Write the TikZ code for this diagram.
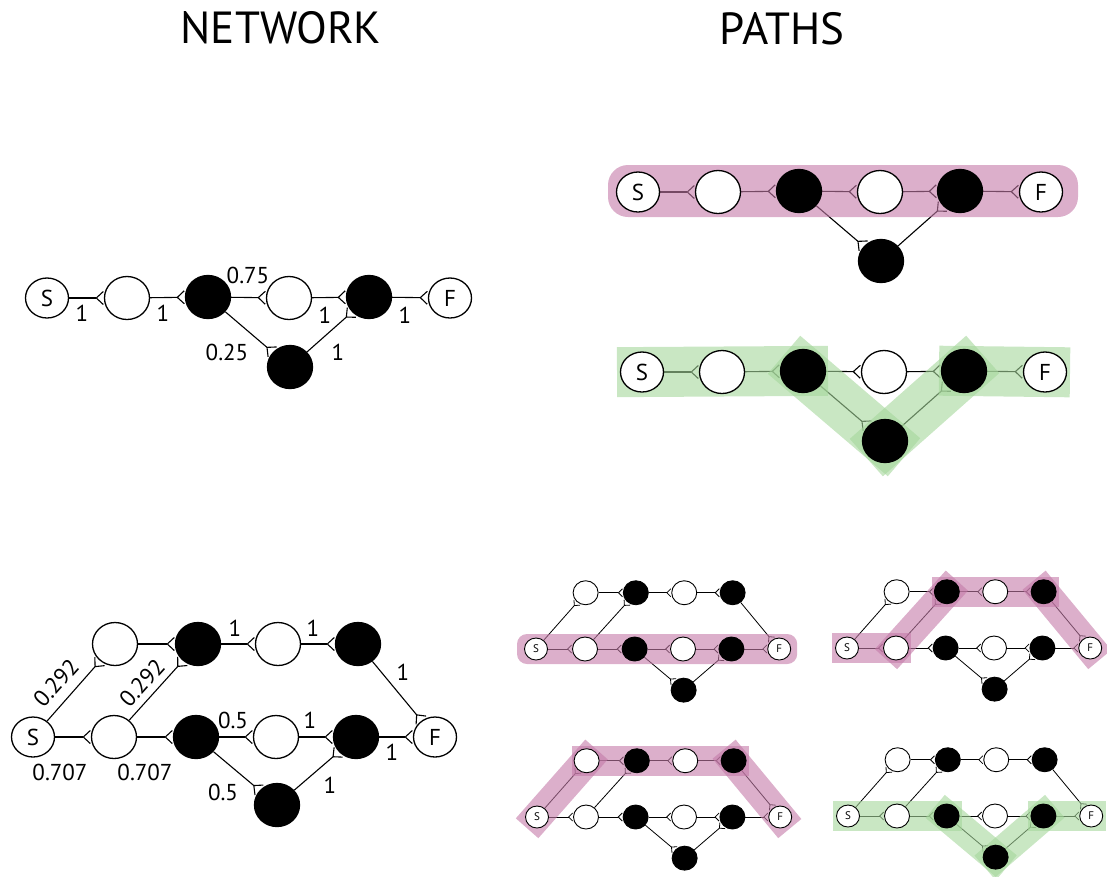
\documentclass[tikz,border=0pt]{standalone}
\usepackage{fontspec}
\setmainfont{PT Sans}
\usetikzlibrary{arrows.meta,shapes.geometric,calc}
\pgfdeclarelayer{edges}
\pgfdeclarelayer{bands}
\pgfsetlayers{edges,bands,main}
\definecolor{pinkb}{RGB}{196,122,168}
\definecolor{greenb}{RGB}{165,215,155}
\tikzset{
  wn/.style={ellipse, draw=black, line width=1.3pt, fill=white, minimum width=45pt, minimum height=43pt, inner sep=0pt},
  bn/.style={wn, fill=black},
  sfn/.style={wn, minimum width=43pt, minimum height=40pt, font=\fontsize{23}{23}\selectfont},
  edg/.style={line width=1.1pt, -{Straight Barb[reversed, length=7pt, width=13pt]}},
  lab/.style={font=\fontsize{23}{23}\selectfont, inner sep=0pt},
  ttl/.style={font=\fontsize{45}{45}\selectfont, inner sep=0pt},
  swn/.style={ellipse, draw=black, line width=0.9pt, fill=white, minimum width=25pt, minimum height=24pt, inner sep=0pt},
  sbn/.style={swn, fill=black},
  ssf/.style={swn, minimum width=23pt, minimum height=22pt, font=\fontsize{11}{11}\selectfont},
  sedg/.style={line width=0.8pt, -{Straight Barb[reversed, length=4pt, width=8pt]}},
  band/.style={draw=#1, draw opacity=0.6, line cap=rect},
}
\newcommand\topnet[2]{%
  \begin{scope}[shift={#2}]
    \node[sfn] (#1s) at (0,0) {S};
    \node[wn] (#1w1) at (80,0) {};
    \node[bn] (#1b1) at (161,-1) {};
    \node[wn] (#1w2) at (242,0) {};
    \node[bn] (#1b2) at (322,-1) {};
    \node[sfn] (#1f) at (403,0) {F};
    \node[bn] (#1x) at (243,69) {};
  \end{scope}
  \begin{pgfonlayer}{edges}
    \foreach \a/\b in {s/w1, w1/b1, b1/w2, w2/b2, b2/f, b1/x, x/b2}
      \draw[edg] (#1\a) -- (#1\b);
  \end{pgfonlayer}
}
\newcommand\lownet[7]{%
  \begin{scope}[shift={#2}, scale=#3]
    \node[#6] (#1s) at (0,0) {S};
    \node[#4] (#1tw1) at (82,-93) {};
    \node[#5] (#1tb1) at (165,-93) {};
    \node[#4] (#1tw2) at (245,-93) {};
    \node[#5] (#1tb2) at (325,-93) {};
    \node[#4] (#1bw1) at (81,0) {};
    \node[#5] (#1bb1) at (163,0) {};
    \node[#4] (#1bw2) at (243,0) {};
    \node[#5] (#1bb2) at (323,0) {};
    \node[#6] (#1f) at (402,0) {F};
    \node[#5] (#1x) at (244,68) {};
  \end{scope}
  \begin{pgfonlayer}{edges}
    \foreach \a/\b in {s/tw1, s/bw1, tw1/tb1, bw1/tb1, tb1/tw2, tw2/tb2, tb2/f, bw1/bb1, bb1/bw2, bw2/bb2, bb2/f, bb1/x, x/bb2}
      \draw[#7] (#1\a) -- (#1\b);
  \end{pgfonlayer}
}
\begin{document}
\begin{tikzpicture}[x=1pt, y=-1pt]
\useasboundingbox (0,0) rectangle (1107,876);
% titles
\node[ttl] (t1) at (281,28) {NETWORK};
\node[ttl] (t2) at (782,29) {PATHS};
% top-left network
\topnet{a}{(47,298)}
\node[lab] (la1) at (82,313) {1};
\node[lab] (la2) at (163,313) {1};
\node[lab] (la3) at (248,275) {0.75};
\node[lab] (la4) at (325,315) {1};
\node[lab] (la5) at (405,315) {1};
\node[lab] (la6) at (227,352) {0.25};
\node[lab] (la7) at (338,352) {1};
% path 1
\topnet{p}{(638,192)}
\begin{pgfonlayer}{bands}
  \fill[pinkb, opacity=0.6, rounded corners=20] ($(ps)+(-30,-27)$) rectangle ($(pf)+(37,25)$);
\end{pgfonlayer}
% path 2
\topnet{q}{(642,372)}
\begin{pgfonlayer}{bands}
  \draw[band=greenb, line width=50pt] (qs.center) -- (qb1.center);
  \draw[band=greenb, line width=50pt] (qb1.center) -- (qx.center);
  \draw[band=greenb, line width=50pt] (qx.center) -- (qb2.center);
  \draw[band=greenb, line width=50pt] (qb2.center) -- (qf.center);
\end{pgfonlayer}
% bottom-left network
\lownet{n}{(33,737)}{1}{wn}{bn}{sfn}{edg}
\node[lab, rotate=48] (lb1) at (56,683) {0.292};
\node[lab, rotate=48] (lb2) at (142,683) {0.292};
\node[lab] (lb3) at (60,772) {0.707};
\node[lab] (lb4) at (145,772) {0.707};
\node[lab] (lb5) at (235,628) {1};
\node[lab] (lb6) at (313,628) {1};
\node[lab] (lb7) at (403,672) {1};
\node[lab] (lb8) at (233,720) {0.5};
\node[lab] (lb9) at (310,720) {1};
\node[lab] (lb10) at (392,752) {1};
\node[lab] (lb11) at (223,792) {0.5};
\node[lab] (lb12) at (330,785) {1};
% small path networks
\lownet{i}{(536,649)}{0.605}{swn}{sbn}{ssf}{sedg}
\lownet{j}{(847,648)}{0.605}{swn}{sbn}{ssf}{sedg}
\lownet{k}{(537,817)}{0.605}{swn}{sbn}{ssf}{sedg}
\lownet{m}{(848,816)}{0.605}{swn}{sbn}{ssf}{sedg}
\begin{pgfonlayer}{bands}
  \fill[pinkb, opacity=0.6, rounded corners=10] ($(is)+(-19,-15)$) rectangle ($(if)+(18,15)$);
  \foreach \a/\b in {s/bw1, bw1/tb1, tb1/tb2, tb2/f}
    \draw[band=pinkb, line width=30pt] (j\a.center) -- (j\b.center);
  \foreach \a/\b in {s/tw1, tw1/tb2, tb2/f}
    \draw[band=pinkb, line width=30pt] (k\a.center) -- (k\b.center);
  \foreach \a/\b in {s/bb1, bb1/x, x/bb2, bb2/f}
    \draw[band=greenb, line width=30pt] (m\a.center) -- (m\b.center);
\end{pgfonlayer}
\end{tikzpicture}
\end{document}
